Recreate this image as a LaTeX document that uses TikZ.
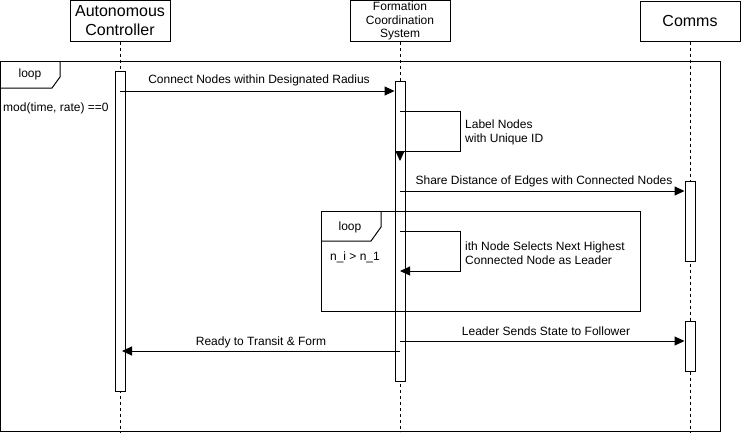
\documentclass[tikz,border=0pt]{standalone}
\usepackage{fontspec}
\setmainfont{Liberation Sans}
\usetikzlibrary{arrows.meta}
\begin{document}
\begin{tikzpicture}[x=1pt,y=-1pt,
  actor/.style={draw,line width=1pt,fill=white,inner sep=0pt,align=center,minimum width=100pt},
  bar/.style={draw,line width=1pt,fill=white,inner sep=0pt,minimum width=10pt},
  life/.style={line width=1pt,dash pattern=on 3pt off 3pt},
  fragment/.style={line width=1pt},
  msg/.style={line width=1pt,-{Triangle[length=10pt,width=9pt]}},
  lbl/.style={font=\fontsize{12}{14}\selectfont,inner sep=0pt},
  note/.style={font=\fontsize{12}{14.5}\selectfont,inner sep=0pt,align=left,anchor=west},
]
\useasboundingbox (0,0) rectangle (741,432);

% participants
\node[actor,minimum height=41pt,font=\fontsize{16}{19}\selectfont] (ac) at (120,20.5) {Autonomous\\Controller};
\node[actor,minimum height=41pt,font=\fontsize{12}{13.8}\selectfont] (fcs) at (400,21) {Formation\\Coordination\\System};
\node[actor,minimum height=40pt,font=\fontsize{16}{19}\selectfont] (cm) at (690,21) {Comms};

% lifelines
\coordinate (acend) at (120,432);
\coordinate (fcsend) at (400,432);
\coordinate (cmend) at (690,432);
\draw[life] (ac.south) -- (acend);
\draw[life] (fcs.south) -- (fcsend);
\draw[life] (cm.south) -- (cmend);

% activation bars
\node[bar,minimum height=320pt] (ac1) at (120,231) {};
\node[bar,minimum height=300pt] (fcs1) at (400,231) {};
\node[bar,minimum height=80pt] (cm1) at (690,221) {};
\node[bar,minimum height=50pt] (cm2) at (690,346) {};

% outer loop fragment
\draw[fragment] (0.5,61.5) rectangle (720,431);
\draw[fragment] (0.5,88) -- (52,88) -- (60,77) -- (60,61.5);
\node[lbl] (outerloop) at (30,74) {loop};
\node[lbl,anchor=west] (outerguard) at (3,108) {mod(time, rate) ==0};

% inner loop fragment
\draw[fragment] (321,211.5) rectangle (640,311);
\draw[fragment] (321,241) -- (371,241) -- (381,227) -- (381,211.5);
\node[lbl] (innerloop) at (350,227) {loop};
\node[lbl] (innerguard) at (355,257) {n\_i > n\_1};

% message levels
\coordinate (m1) at (0,91);
\coordinate (m2a) at (0,111.5);
\coordinate (m2b) at (0,151);
\coordinate (m2c) at (0,161);
\coordinate (m3) at (0,191);
\coordinate (m4a) at (0,231.5);
\coordinate (m4b) at (0,271);
\coordinate (m5) at (0,341);
\coordinate (m6) at (0,351);
\coordinate (loopx) at (460.5,0);
\coordinate (acin) at (122,0);

% messages
\draw[msg] (ac1 |- m1) -- (fcs1.west |- m1);
\node[lbl] (t1) at (259,80) {Connect Nodes within Designated Radius};

\draw[msg] (fcs1 |- m2a) -- (loopx |- m2a) -- (loopx |- m2b) -- (fcs1 |- m2b) -- (fcs1 |- m2c);
\node[note] (t2) at (465,132.5) {Label Nodes\\with Unique ID};

\draw[msg] (fcs1 |- m3) -- (cm1.west |- m3);
\node[lbl] (t3) at (544,181) {Share Distance of Edges with Connected Nodes};

\draw[msg] (fcs1 |- m4a) -- (loopx |- m4a) -- (loopx |- m4b) -- (fcs1 |- m4b);
\node[note] (t4) at (465,253) {ith Node Selects Next Highest\\Connected Node as Leader};

\draw[msg] (fcs1 |- m5) -- (cm2.west |- m5);
\node[lbl] (t5) at (546,331) {Leader Sends State to Follower};

\draw[msg] (fcs1 |- m6) -- (acin |- m6);
\node[lbl] (t6) at (261,342) {Ready to Transit \& Form};
\end{tikzpicture}
\end{document}
